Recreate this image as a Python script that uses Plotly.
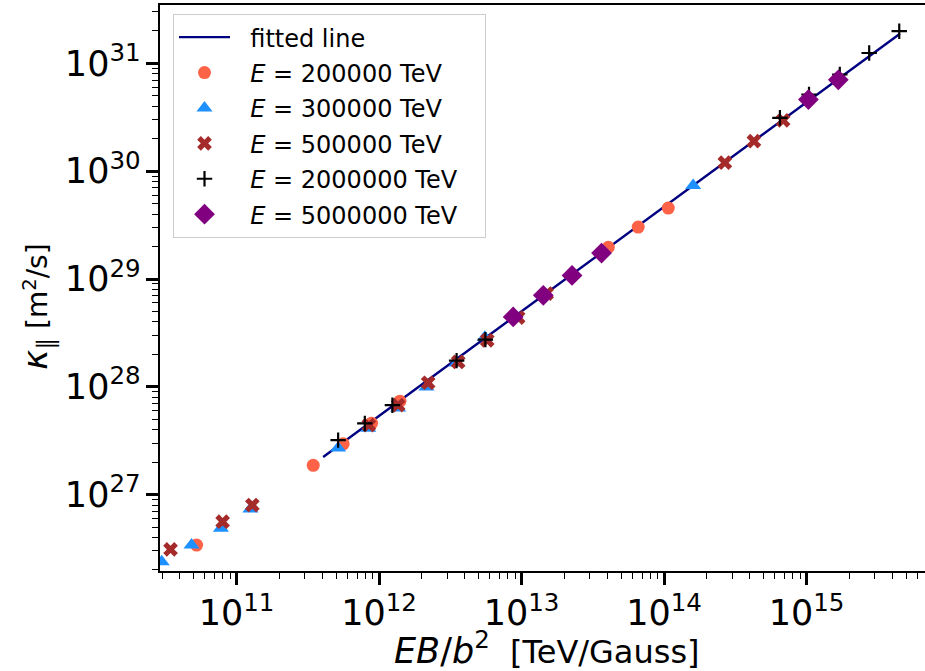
import numpy as np
import plotly.graph_objects as go

# ---- data ----
x_e2e5 = [5.24e10, 3.45e11, 5.60e11, 8.85e11, 1.40e12, 4.06e13, 6.58e13, 1.07e14]
y_e2e5 = [3.40e26, 1.87e27, 2.96e27, 4.60e27, 7.36e27, 1.97e29, 3.03e29, 4.55e29]

x_e3e5 = [2.98e10, 4.83e10, 7.76e10, 1.25e11, 5.16e11, 8.39e11, 1.36e12, 2.15e12, 3.50e12, 5.52e12, 1.60e14]
y_e3e5 = [2.38e26, 3.40e26, 4.86e26, 7.35e26, 2.70e27, 4.13e27, 6.34e27, 9.98e27, 1.66e28, 2.88e28, 7.38e29]

x_e5e5 = [3.44e10, 7.98e10, 1.29e11, 8.47e11, 1.36e12, 2.21e12, 3.59e12, 5.74e12, 9.46e12, 1.50e13, 2.67e14, 4.27e14, 6.85e14]
y_e5e5 = [3.10e26, 5.60e26, 8.00e26, 4.41e27, 6.75e27, 1.09e28, 1.70e28, 2.70e28, 4.39e28, 7.33e28, 1.20e30, 1.90e30, 2.96e30]

x_e2e6 = [5.16e11, 7.94e11, 1.24e12, 3.50e12, 5.57e12, 6.50e14, 1.04e15, 1.71e15, 2.75e15, 4.47e15]
y_e2e6 = [3.20e27, 4.57e27, 6.75e27, 1.75e28, 2.74e28, 3.13e30, 5.15e30, 7.89e30, 1.25e31, 1.99e31]

x_e5e6 = [8.73e12, 1.42e13, 2.26e13, 3.64e13, 1.03e15, 1.67e15]
y_e5e6 = [4.45e28, 7.06e28, 1.08e29, 1.74e29, 4.62e30, 7.05e30]

fit_x = [4.05e11, 4.52e15]
fit_log_intercept = 16.09
fit_slope = 0.970

series_names = ["<i>E</i> = 200000 TeV", "<i>E</i> = 300000 TeV", "<i>E</i> = 500000 TeV",
                "<i>E</i> = 2000000 TeV", "<i>E</i> = 5000000 TeV"]

# ---- figure ----
FONT = "DejaVu Sans"
PAD = "\u00a0\u00a0"
TAIL = "\u00a0\u00a0\u00a0"
fig = go.Figure()

fx = np.array(fit_x)
fy = 10 ** (fit_log_intercept + fit_slope * np.log10(fx))
fig.add_trace(go.Scatter(x=fx, y=fy, mode="lines", name=PAD + "fitted line", legendgroup="g0",
                         line=dict(color="#000080", width=2.4)))

styles = [
    dict(symbol="circle", size=13, color="#FF6347"),
    dict(symbol="triangle-up", size=14, color="#1E90FF"),
    dict(symbol="x", size=13, color="#A52A2A"),
    dict(symbol="cross-thin", size=11, color="black", line=dict(color="black", width=2.2)),
    dict(symbol="diamond", size=16, color="#800080"),
]
data = [(x_e2e5, y_e2e5), (x_e3e5, y_e3e5), (x_e5e5, y_e5e5), (x_e2e6, y_e2e6), (x_e5e6, y_e5e6)]
for i, ((xs, ys), nm, st) in enumerate(zip(data, series_names, styles)):
    mk = dict(symbol=st["symbol"], size=st["size"], color=st["color"])
    if "line" in st:
        mk["line"] = st["line"]
    else:
        mk["line"] = dict(width=0)
    fig.add_trace(go.Scatter(x=xs, y=ys, mode="markers", name=PAD + nm + TAIL,
                             legendgroup=f"g{i+1}", marker=mk))

axis_common = dict(
    type="log", showgrid=False, zeroline=False, showline=True,
    linecolor="black", linewidth=1.6, ticks="outside", ticklen=12, tickwidth=2.5,
    tickcolor="black", dtick=1, exponentformat="power",
    tickfont=dict(family=FONT, size=28, color="black"),
    minor=dict(ticks="outside", ticklen=6, tickwidth=1.3, tickcolor="black",
               dtick="D1", showgrid=False),
)
fig.update_xaxes(**axis_common, range=[10.4625, 15.831], mirror=True)
fig.update_yaxes(**axis_common, range=[26.291, 31.542], mirror=False)

fig.add_annotation(
    text='<span style="font-size:35px"><i>EB</i>/<i>b</i><sup>2</sup></span>\u00a0\u00a0[TeV/Gauss]',
    xref="paper", yref="paper", x=0.506, y=-0.136, xanchor="center", yanchor="middle",
    showarrow=False, font=dict(family=FONT, size=32, color="black"))
fig.add_annotation(
    text='<span style="font-size:34px"><i>κ</i><sub>∥</sub></span> [m<sup>2</sup>/s]',
    xref="paper", yref="paper", x=-0.16, y=0.466, xanchor="center", yanchor="middle",
    textangle=-90, showarrow=False, font=dict(family=FONT, size=28, color="black"))

fig.update_layout(
    width=925, height=671,
    margin=dict(l=160, r=0, t=5, b=100),
    paper_bgcolor="white", plot_bgcolor="white",
    font=dict(family=FONT, color="black"),
    legend=dict(x=0.017, y=0.984, xanchor="left", yanchor="top",
                bgcolor="rgba(255,255,255,0.8)", bordercolor="#cccccc", borderwidth=1,
                itemwidth=51,
                traceorder="grouped", tracegroupgap=1.2,
                font=dict(family=FONT, size=24, color="black")),
    showlegend=True,
)

fig.write_html("out.html")
